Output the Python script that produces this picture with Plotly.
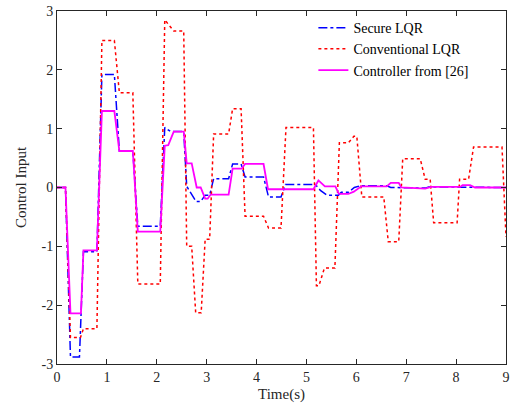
import plotly.graph_objects as go

# Secure LQR
t_secure = [0, 0.17, 0.27, 0.45, 0.53, 0.8, 0.9, 1.15, 1.25, 1.52, 1.62, 2.07, 2.16, 2.2, 2.28,
            2.54, 2.6, 2.79, 2.88, 2.97, 3.06, 3.14, 3.44, 3.52, 3.69, 3.77, 4.14, 4.24, 4.49,
            4.58, 5.18, 5.28, 5.41, 5.64, 5.7, 5.84, 5.96, 6.08, 6.61, 6.69, 7.38, 7.45, 8.08,
            8.15, 9.0]
v_secure = [0, 0, -2.88, -2.88, -1.09, -1.09, 1.92, 1.92, 0.62, 0.62, -0.66, -0.66, 1.02, 1.0, 0.95,
            0.95, 0.02, -0.24, -0.24, -0.13, -0.13, 0.15, 0.15, 0.40, 0.40, 0.18, 0.18, -0.16, -0.16,
            0.05, 0.05, -0.05, -0.13, -0.13, -0.08, -0.08, 0.0, 0.03, 0.03, 0.0, -0.01, 0.01, 0.01,
            0.0, 0.0]

# Conventional LQR
t_conv = [0, 0.17, 0.27, 0.47, 0.53, 0.8, 0.9, 1.15, 1.25, 1.52, 1.62, 2.07, 2.16, 2.34, 2.54,
          2.6, 2.7, 2.78, 2.89, 2.97, 3.06, 3.14, 3.44, 3.52, 3.69, 3.77, 4.14, 4.24, 4.49, 4.59,
          5.14, 5.2, 5.25, 5.36, 5.57, 5.66, 5.84, 5.95, 6.01, 6.11, 6.55, 6.64, 6.85, 6.93,
          7.28, 7.38, 7.48, 7.55, 8.02, 8.07, 8.25, 8.35, 8.92, 9.0]
v_conv = [0, 0, -2.55, -2.55, -2.40, -2.40, 2.50, 2.50, 1.61, 1.61, -1.64, -1.64, 2.85, 2.66, 2.66,
          -1.0, -1.0, -2.13, -2.13, -0.88, -0.88, 0.91, 0.91, 1.34, 1.34, -0.49, -0.49, -0.69, -0.69, 1.02,
          1.02, -1.67, -1.67, -1.37, -1.37, 0.76, 0.76, 0.87, 0.87, -0.16, -0.16, -0.92, -0.92, 0.49,
          0.49, 0.14, 0.14, -0.60, -0.60, 0.14, 0.14, 0.69, 0.69, -0.84]

# Controller from [26]
t_ref = [0, 0.17, 0.27, 0.48, 0.53, 0.8, 0.9, 1.15, 1.25, 1.52, 1.62, 2.07, 2.16, 2.23, 2.34,
         2.54, 2.6, 2.7, 2.8, 2.88, 2.97, 3.02, 3.08, 3.44, 3.52, 3.7, 3.77, 4.14, 4.23, 5.14,
         5.24, 5.37, 5.58, 5.65, 5.84, 5.95, 6.1, 6.61, 6.69, 6.85, 6.9, 7.38, 7.5, 8.08, 8.13,
         8.28, 8.38, 9.0]
v_ref = [0, 0, -2.14, -2.14, -1.07, -1.07, 1.30, 1.30, 0.62, 0.62, -0.75, -0.75, 0.71, 0.72, 0.95,
         0.95, 0.41, 0.41, 0.0, 0.0, -0.19, -0.19, -0.12, -0.12, 0.32, 0.32, 0.40, 0.40, -0.03, -0.03,
         0.12, 0.02, 0.02, -0.11, -0.11, -0.07, 0.02, 0.02, 0.08, 0.08, 0.0, -0.02, 0.01, 0.01, 0.04,
         0.04, 0.0, 0.0]

x_ticks = [0, 1, 2, 3, 4, 5, 6, 7, 8, 9]
y_ticks = [-3, -2, -1, 0, 1, 2, 3]
y_tick_text = ["-3", "-2", "-1", "0", "1", "2", "3"]

font_family = "Liberation Serif"

fig = go.Figure()
fig.add_trace(go.Scatter(x=t_secure, y=v_secure, mode="lines", name="Secure LQR",
                         line=dict(color="#0000FF", width=1.5, dash="dashdot")))
fig.add_trace(go.Scatter(x=t_conv, y=v_conv, mode="lines", name="Conventional LQR",
                         line=dict(color="#FF0000", width=1.5, dash="dot")))
fig.add_trace(go.Scatter(x=t_ref, y=v_ref, mode="lines", name="Controller from [26]",
                         line=dict(color="#FF00FF", width=1.8)))

axis_common = dict(showgrid=False, zeroline=False, showline=True, linecolor="#262626",
                   linewidth=1, mirror="ticks", ticks="inside", ticklen=5, tickcolor="#262626",
                   automargin=False, ticklabeloverflow="allow",
                   tickfont=dict(family=font_family, size=14, color="#262626"))

fig.update_layout(
    width=515, height=414,
    margin=dict(l=57, r=9, t=11, b=50),
    paper_bgcolor="white", plot_bgcolor="white",
    font=dict(family=font_family, color="#262626"),
    showlegend=True,
    legend=dict(x=0.571, y=0.997, xanchor="left", yanchor="top",
                bgcolor="rgba(255,255,255,0)", borderwidth=0,
                font=dict(family=font_family, size=14, color="#000000"),
                itemwidth=30, tracegroupgap=0),
    xaxis=dict(range=[0, 9], tickvals=x_ticks, title=dict(text="Time(s)", standoff=4,
               font=dict(family=font_family, size=15, color="#262626")), **axis_common),
    yaxis=dict(range=[-3, 3], tickvals=y_ticks, ticktext=y_tick_text,
               title=dict(text="Control Input", standoff=11,
                          font=dict(family=font_family, size=15, color="#262626")), **axis_common),
)

fig.write_html("out.html", config={"displayModeBar": False},
               post_script="document.body.style.margin='0';")
